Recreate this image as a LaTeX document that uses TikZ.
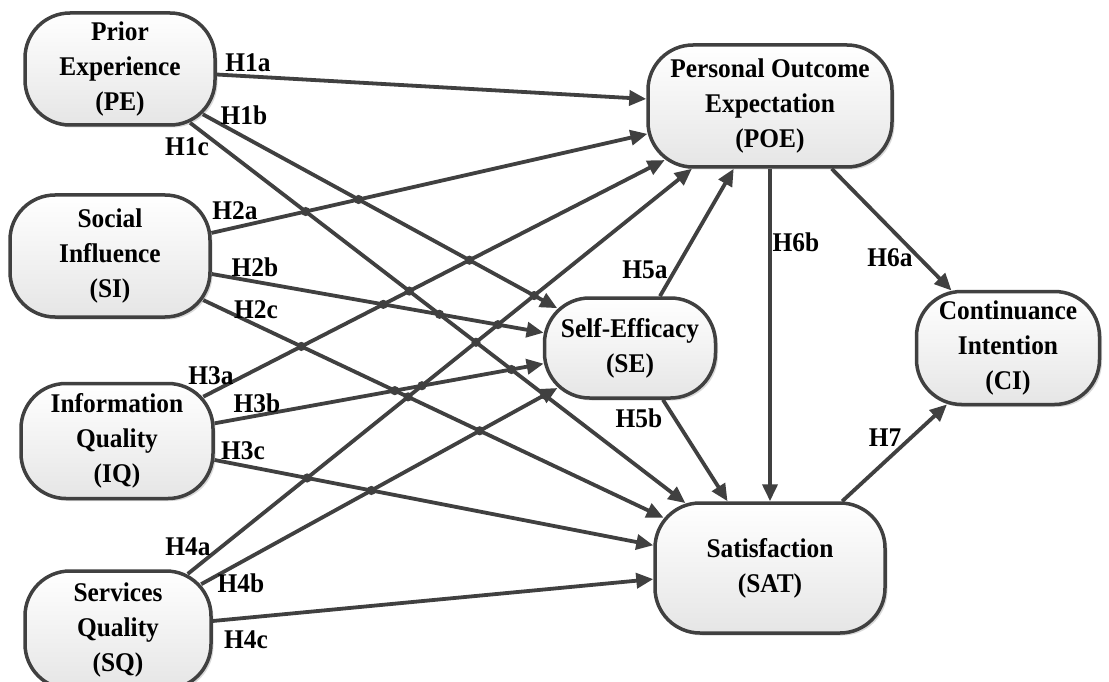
\documentclass[tikz,border=0pt]{standalone}
\usepackage{fontspec}
\setmainfont{Liberation Serif}[FakeStretch=0.94]
\usetikzlibrary{arrows.meta,intersections,shadows,calc}

\definecolor{linec}{HTML}{404040}

% a construct box: name, centre, width, height, text
\newcommand\construct[5]{%
  \node[box, minimum width=#3pt, minimum height=#4pt] (#1) at (#2) {#5};
  \path[name path=b#1, rounded corners=45pt] (#1.south west) rectangle (#1.north east);
}
% a path between two boxes, along the line joining their centres
\newcommand\link[3]{%
  \path[name path=tmp] (#2.center) -- (#3.center);
  \path[name intersections={of=tmp and b#2, by={#1s}}];
  \path[name intersections={of=tmp and b#3, by={#1t}}];
  \draw[conn] (#1s) -- (#1t);
}
% coordinates of a named point, in units of 100pt
\newdimen\hopdim
\newcommand\getpt[3]{%
  \pgfextractx{\hopdim}{\pgfpointanchor{#1}{center}}\pgfmathsetmacro#2{\hopdim/100}%
  \pgfextracty{\hopdim}{\pgfpointanchor{#1}{center}}\pgfmathsetmacro#3{\hopdim/100}%
}
% a small hop mark where two paths cross
\newcommand\hops[2]{%
  \getpt{#1s}\hAx\hAy \getpt{#1t}\hBx\hBy
  \getpt{#2s}\hCx\hCy \getpt{#2t}\hDx\hDy
  \pgfmathsetmacro\hden{(\hBx-\hAx)*(\hDy-\hCy)-(\hBy-\hAy)*(\hDx-\hCx)}%
  \pgfmathtruncatemacro\hok{abs(\hden)>0.0001}%
  \ifnum\hok=1
    \pgfmathsetmacro\hu{((\hCx-\hAx)*(\hDy-\hCy)-(\hCy-\hAy)*(\hDx-\hCx))/\hden}%
    \pgfmathsetmacro\hv{((\hCx-\hAx)*(\hBy-\hAy)-(\hCy-\hAy)*(\hBx-\hAx))/\hden}%
    \pgfmathtruncatemacro\hhit{and(and(\hu>0.01,\hu<0.99),and(\hv>0.01,\hv<0.99))}%
    \ifnum\hhit=1
      \fill[hopc] ($(#1s)!\hu!(#1t)$) circle (4.6pt);
    \fi
  \fi
}

\tikzset{
  box/.style={draw=linec, line width=3.5pt, rounded corners=45pt,
    top color=white, bottom color=black!10, align=center, inner sep=0pt,
    drop shadow={shadow xshift=2.5pt, shadow yshift=-2.5pt, fill=black, opacity=0.15},
    font=\bfseries\fontsize{27}{35}\selectfont},
  conn/.style={draw=linec, line width=3.8pt,
    -{Triangle[length=17pt,width=15pt]}},
  hopc/.style={fill=linec},
  lbl/.style={inner sep=0pt, font=\bfseries\fontsize{27}{30}\selectfont},
}

\begin{document}
\begin{tikzpicture}[x=1pt, y=-1pt]
\useasboundingbox (0,0) rectangle (1109,682);
\clip (0,0) rectangle (1109,682);
\fill[white] (0,0) rectangle (1109,682);

\construct{PE}{120,69}{190}{112}{Prior\\Experience\\(PE)}
\construct{SI}{110,256}{200}{122}{Social\\Influence\\(SI)}
\construct{IQ}{117,441}{192}{115}{Information\\Quality\\(IQ)}
\construct{SQ}{118,630}{186}{118}{Services\\Quality\\(SQ)}
\construct{POE}{770,106}{244}{122}{Personal Outcome\\Expectation\\(POE)}
\construct{SE}{630,348}{171}{100}{Self-Efficacy\\(SE)}
\construct{SAT}{770,568}{230}{130}{Satisfaction\\(SAT)}
\construct{CI}{1008,348}{183}{113}{Continuance\\Intention\\(CI)}

\link{1a}{PE}{POE}
\link{1b}{PE}{SE}
\link{1c}{PE}{SAT}
\link{2a}{SI}{POE}
\link{2b}{SI}{SE}
\link{2c}{SI}{SAT}
\link{3a}{IQ}{POE}
\link{3b}{IQ}{SE}
\link{3c}{IQ}{SAT}
\link{4a}{SQ}{POE}
\link{4b}{SQ}{SE}
\link{4c}{SQ}{SAT}
\link{5a}{SE}{POE}
\link{5b}{SE}{SAT}
\link{6a}{POE}{CI}
\link{6b}{POE}{SAT}
\link{7}{SAT}{CI}

\foreach \a [count=\i] in {1a,1b,1c,2a,2b,2c,3a,3b,3c,4a,4b,4c,5a,5b}{
  \foreach \b [count=\j] in {1a,1b,1c,2a,2b,2c,3a,3b,3c,4a,4b,4c,5a,5b}{
    \ifnum\j>\i \hops{\a}{\b}\fi
  }
}

\node[lbl] (h1a) at (248,63) {H1a};
\node[lbl] (h1b) at (244,115) {H1b};
\node[lbl] (h1c) at (187,147) {H1c};
\node[lbl] (h2a) at (235,211) {H2a};
\node[lbl] (h2b) at (255,267) {H2b};
\node[lbl] (h2c) at (256,310) {H2c};
\node[lbl] (h3a) at (211,376) {H3a};
\node[lbl] (h3b) at (257,403) {H3b};
\node[lbl] (h3c) at (243,451) {H3c};
\node[lbl] (h4a) at (188,547) {H4a};
\node[lbl] (h4b) at (241,583) {H4b};
\node[lbl] (h4c) at (246,640) {H4c};
\node[lbl] (h5a) at (645,270) {H5a};
\node[lbl] (h5b) at (639,418) {H5b};
\node[lbl] (h6b) at (796,242) {H6b};
\node[lbl] (h6a) at (890,258) {H6a};
\node[lbl] (h7) at (885,438) {H7};
\end{tikzpicture}
\end{document}
